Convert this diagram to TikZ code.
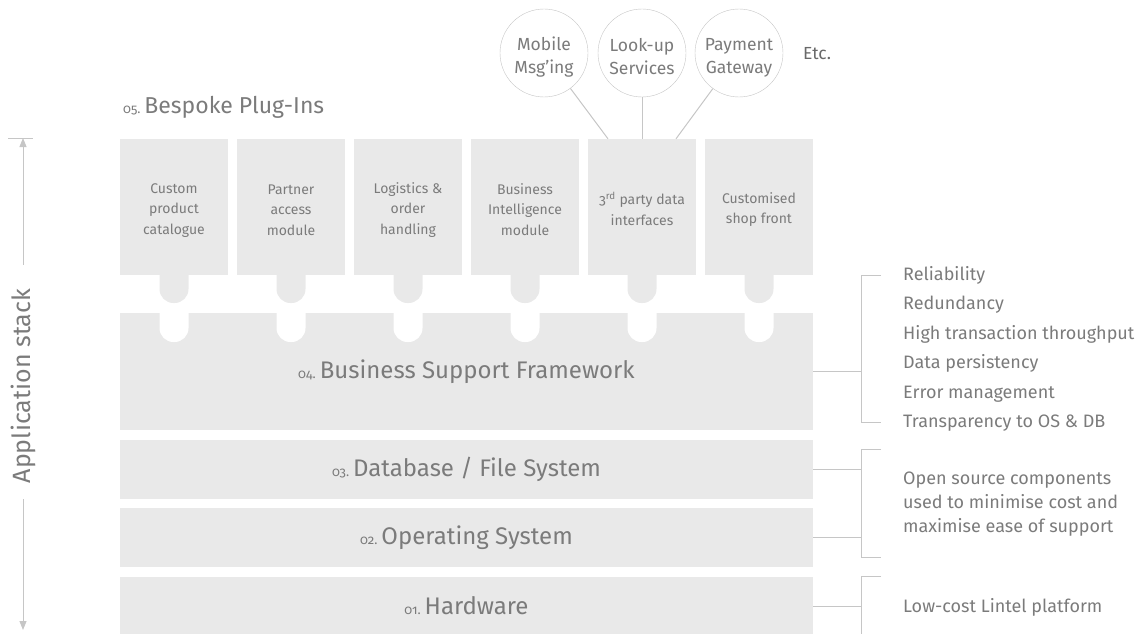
\documentclass[tikz,border=0pt]{standalone}
\usepackage{fontspec}
\setmainfont{Fira Sans}[Numbers=OldStyle]
\usetikzlibrary{arrows.meta}
\definecolor{boxgray}{HTML}{E9E9E9}
\definecolor{txtgray}{HTML}{7B7B7B}
\definecolor{rulegray}{HTML}{C6C6C6}
\newcommand{\stepno}[1]{{\fontsize{13}{13}\selectfont #1}\,}

\begin{document}
\begin{tikzpicture}[x=1pt,y=-1pt,
	plug/.style={fill=boxgray, minimum width=108pt, minimum height=136pt, inner sep=0pt, align=center, text=txtgray, font=\fontsize{14}{20.5}\selectfont},
	layer/.style={fill=boxgray, minimum width=693pt, inner sep=0pt, text=txtgray, font=\fontsize{24}{28}\selectfont},
	svc/.style={circle, draw=rulegray, fill=white, minimum size=88pt, inner sep=0pt, align=center, text=txtgray, font=\fontsize{17.5}{23}\selectfont},
	note/.style={anchor=west, align=left, text=txtgray, inner sep=0pt, font=\fontsize{18}{29.5}\selectfont},
	link/.style={draw=rulegray, line width=1pt},
	tab/.style={fill=boxgray, rounded corners=14pt},
	notch/.style={fill=white, rounded corners=14pt}]
				\useasboundingbox (0,0) rectangle (1143,634);
				\node[layer, minimum height=117pt] (l4) at (466.5,371.5) {\stepno{04.}Business Support Framework};
				\node[layer, minimum height=59pt] (l3) at (466.5,469.5) {\stepno{03.}Database / File System};
				\node[layer, minimum height=59pt] (l2) at (466.5,537.5) {\stepno{02.}Operating System};
				\node[layer, minimum height=58pt] (l1) at (466.5,606) {\stepno{01.}Hardware};
				\node[plug] (p1) at (174,207) {\rule{0pt}{16pt}Custom\\product\\catalogue};
				\node[plug] (p2) at (291,207) {\rule{0pt}{16pt}Partner\\access\\module};
				\node[plug] (p3) at (408,207) {\rule{0pt}{16pt}Logistics \&\\order\\handling};
				\node[plug] (p4) at (525,207) {\rule{0pt}{16pt}Business\\Intelligence\\module};
				\node[plug] (p5) at (642,207) {\rule{0pt}{16pt}3\textsuperscript{rd} party data\\interfaces};
				\node[plug] (p6) at (759,207) {\rule{0pt}{16pt}Customised\\shop front};
				\foreach \x in {174,291,408,525,642,759} {
					\fill[notch] (\x-14.5,280) rectangle (\x+14.5,342);
					\fill[tab] (\x-14.5,250) rectangle (\x+14.5,303);
				}
				\node[anchor=west, inner sep=0pt, text=txtgray, font=\fontsize{23}{28}\selectfont] (head) at (123,107) {\stepno{05.}Bespoke Plug-Ins};
				\node[svc] (mob) at (544,53) {\rule{0pt}{21pt}Mobile\\Msg’ing};
				\node[svc] (look) at (642,53) {\rule{0pt}{21pt}Look-up\\Services};
				\node[svc] (pay) at (739,53) {\rule{0pt}{21pt}Payment\\Gateway};
				\node[anchor=west, inner sep=0pt, text=txtgray!85!black, font=\fontsize{17.5}{20}\selectfont] (etc) at (803,54) {Etc.};
				\draw[link] (mob) -- ([xshift=-34pt]p5.north);
				\draw[link] (look) -- (p5.north);
				\draw[link] (pay) -- ([xshift=34pt]p5.north);
				\coordinate (k4) at (861,371.5);
				\coordinate (k3) at (861,469.5);
				\coordinate (k2) at (861,537.5);
				\coordinate (k1) at (861,606);
				\draw[link] (l4.east) -- (k4);
				\draw[link] (l3.east) -- (k3);
				\draw[link] (l2.east) -- (k2);
				\draw[link] (l1.east) -- (k1);
				\draw[link] (881,275) -- (861,275) -- (861,422) -- (881,422);
				\draw[link] (881,449) -- (861,449) -- (861,557) -- (881,557);
				\draw[link] (881,576) -- (861,576) -- (861,640);
				\node[note] (n4) at (903,349) {Reliability\\Redundancy\\High transaction throughput\\Data persistency\\Error management\\Transparency to OS \& DB};
				\node[note, font=\fontsize{18}{24}\selectfont] (n3) at (903,504) {Open source components\\used to minimise cost and\\maximise ease of support};
				\node[note] (n1) at (903,607) {Low-cost Lintel platform};
				\node[rotate=90, inner sep=0pt, text=txtgray, font=\fontsize{25}{30}\selectfont] (stack) at (23,386) {Application stack};
				\draw[link] (8,138) -- (33,138);
				\draw[link, -{Triangle[width=7pt,length=9pt]}, shorten <=24pt] (stack.east) -- (23,138);
				\draw[link, -{Triangle[width=7pt,length=9pt]}, shorten <=16pt] (stack.west) -- (23,630);
			\end{tikzpicture}
\end{document}
